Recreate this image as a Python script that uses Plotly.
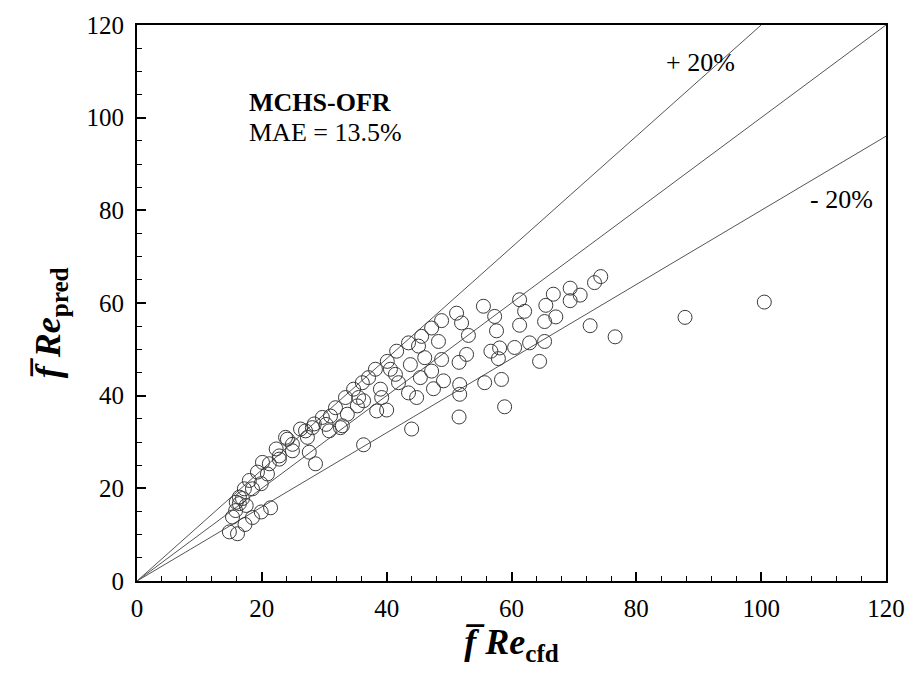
import plotly.graph_objects as go

# Scatter data (fRe_cfd, fRe_pred)
fre_cfd = [14.8, 16.1, 15.3, 15.8, 17.3, 18.5, 19.9, 21.4, 16.4, 17.5, 16.9, 17.2, 18.5, 18.0,
           19.9, 19.3, 20.9, 20.1, 21.2, 22.8, 22.3, 24.1, 24.9, 24.9, 26.2, 27.3, 27.6, 28.6,
           28.1, 30.8, 32.9, 22.8, 23.8, 16.4, 15.9, 28.4, 27.0, 29.7, 30.3,
           31.0, 32.6, 33.7, 31.8, 33.4, 34.7, 35.3, 36.3, 36.1, 37.1, 38.2, 38.4, 40.0, 39.0,
           39.2, 36.3, 44.0, 40.1, 41.4, 40.6, 41.6, 41.9, 43.8, 43.5, 44.8, 43.5, 45.1, 45.6,
           46.1, 45.4, 47.2, 47.5, 48.8, 49.1, 48.3, 35.5,
           47.2, 48.8, 51.2, 52.0, 53.1, 52.8, 51.6, 51.7, 51.7, 51.6, 55.7, 58.4, 58.9, 55.5,
           57.3, 57.6, 56.7, 58.1, 57.9, 60.5, 61.3, 62.1, 61.3, 62.9, 64.5, 65.3, 65.3, 65.5,
           66.7, 67.1, 69.4, 69.4, 71.0, 73.3, 74.3, 72.6, 76.6, 87.8, 100.5]
fre_pred = [10.6, 10.2, 13.8, 15.2, 12.2, 13.7, 14.9, 15.8, 16.7, 16.3, 17.8, 19.9, 19.9, 21.7,
            21.0, 23.5, 23.1, 25.6, 25.3, 26.3, 28.5, 30.6, 29.5, 28.1, 32.8, 31.0, 27.8, 25.3,
            33.1, 32.4, 33.5, 27.0, 31.0, 18.1, 17.0, 33.9, 32.4, 35.3, 33.8,
            35.6, 33.1, 36.0, 37.4, 39.6, 41.4, 37.8, 38.9, 42.8, 43.9, 45.7, 36.7, 36.9, 41.4,
            39.6, 29.4, 32.8, 47.4, 44.6, 45.7, 49.6, 42.8, 46.7, 40.6, 39.6, 51.4, 50.7, 52.8,
            48.2, 43.9, 45.3, 41.5, 47.8, 43.2, 51.7, 39.6,
            54.6, 56.2, 57.8, 55.7, 53.0, 48.9, 47.2, 42.4, 40.3, 35.4, 42.8, 43.5, 37.6, 59.3,
            57.1, 54.0, 49.6, 50.3, 48.0, 50.4, 60.7, 58.2, 55.2, 51.4, 47.4, 51.7, 56.0, 59.5,
            61.9, 57.0, 63.2, 60.5, 61.7, 64.4, 65.7, 55.1, 52.7, 56.9, 60.2]

# Reference lines: y = x, y = 1.2x, y = 0.8x
line_x = [[0, 120], [0, 100], [0, 120]]
line_y = [[0, 120], [0, 120], [0, 96]]

tick_vals = [0, 20, 40, 60, 80, 100, 120]

FONT = "Liberation Serif"

fig = go.Figure()
for lx, ly in zip(line_x, line_y):
    fig.add_trace(go.Scatter(x=lx, y=ly, mode="lines",
                             line=dict(color="#555555", width=1), showlegend=False,
                             hoverinfo="skip"))
fig.add_trace(go.Scatter(x=fre_cfd, y=fre_pred, mode="markers",
                         marker=dict(symbol="circle-open", size=14,
                                     color="#3a3a3a", line=dict(width=1, color="#3a3a3a")),
                         showlegend=False))

axis_common = dict(
    range=[0, 120], tickvals=tick_vals, showgrid=False, zeroline=False,
    showline=True, linecolor="black", linewidth=2, mirror=True,
    ticks="inside", ticklen=9, tickwidth=1.5, tickcolor="black",
    tickfont=dict(family=FONT, size=25, color="black"),
)

fig.update_layout(
    width=917, height=691,
    margin=dict(l=137, r=27, t=22, b=110),
    paper_bgcolor="white", plot_bgcolor="white",
    xaxis=dict(**axis_common, ticklabelstandoff=4,
               minor=dict(dtick=4, ticks="inside", ticklen=5, tickcolor="black", tickwidth=1),
               title=dict(text="<b><i>f\u0305 Re</i></b><sub><b>cfd</b></sub>",
                          font=dict(family=FONT, size=36, color="black"),
                          standoff=8)),
    yaxis=dict(**axis_common, ticklabelstandoff=6,
               minor=dict(dtick=5, ticks="inside", ticklen=5, tickcolor="black", tickwidth=1)),
    annotations=[
        dict(x=-0.115, y=0.465, xref="paper", yref="paper", xanchor="center", yanchor="middle",
             textangle=-90, text="<b><i>f\u0305 Re</i></b><sub><b>pred</b></sub>",
             showarrow=False, font=dict(family=FONT, size=36, color="black")),
        dict(x=17.7, y=103.3, xref="x", yref="y", xanchor="left", text="<b>MCHS-OFR</b>",
             showarrow=False, font=dict(family=FONT, size=26, color="black")),
        dict(x=17.7, y=96.8, xref="x", yref="y", xanchor="left", text="MAE = 13.5%",
             showarrow=False, font=dict(family=FONT, size=26, color="black")),
        dict(x=90.2, y=112, xref="x", yref="y", text="+ 20%", showarrow=False,
             font=dict(family=FONT, size=26, color="black")),
        dict(x=112.8, y=82.4, xref="x", yref="y", text="- 20%", showarrow=False,
             font=dict(family=FONT, size=26, color="black")),
    ],
)

fig.write_html("out.html")
